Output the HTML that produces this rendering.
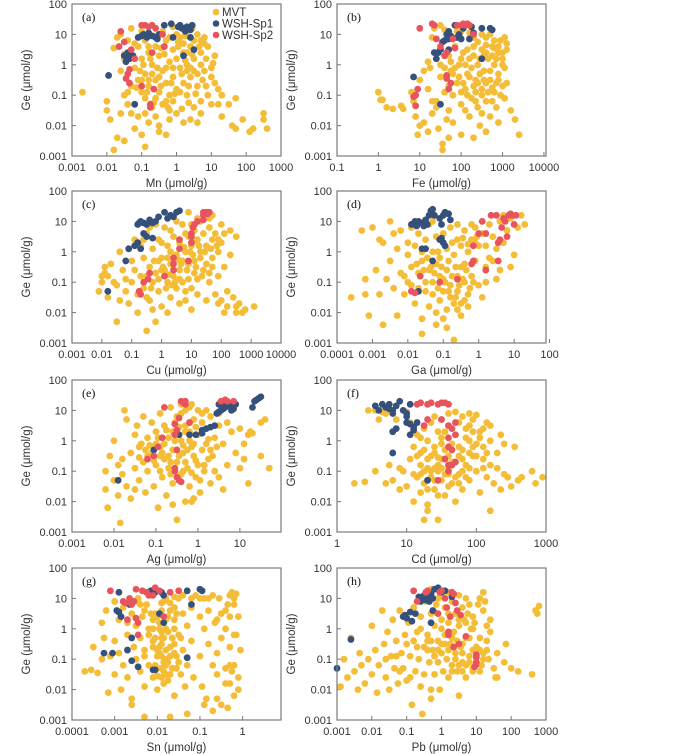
<!DOCTYPE html>
<html><head><meta charset="utf-8"><style>
body{margin:0;background:#fff;}
svg{display:block;font-family:"Liberation Sans",sans-serif;}
</style></head><body>
<svg id="fig" width="700" height="754" viewBox="0 0 700 754"></svg>
<script>
// Each pair = [log10(element µmol/g), log10(Ge µmol/g)]
const mnMvt=[[-2.7,-0.9],[-2.0,-1.2],[-2.0,-1.5],[-1.9,-1.8],[-1.8,-2.8],[-1.7,-2.4],[-1.5,-2.5],[-1.8,0.55],[-1.6,-0.2],[-1.5,0.2],[-1.5,-1.0],[-1.4,-1.3],[-1.3,-1.6],[-1.2,-2.1],[-1.0,-2.3],[-0.9,-2.7],[-0.5,-2.2],[-0.3,-2.3],[-0.2,-1.8],[-1.7,0.9],[-1.6,1.0],[-1.4,0.8],[-1.3,1.2],[-1.2,0.7],[-1.5,0.35],[-1.1,0.6],[-1.2,-0.1],[-1.1,-0.5],[-1.0,-0.9],[-1.0,0.2],[-0.9,-0.3],[-0.9,-1.1],[-0.8,0.4],[-0.8,-0.7],[-0.7,0.0],[-0.7,-1.4],[-0.6,-0.5],[-0.6,0.6],[-0.5,-0.9],[-0.5,0.3],[-0.4,-0.2],[-0.4,-1.3],[-0.3,0.8],[-0.3,-0.6],[-0.2,0.1],[-0.2,-1.0],[-0.1,-0.4],[-0.1,0.5],[0.0,-0.8],[0.0,0.2],[0.1,-0.1],[0.1,0.9],[0.2,-0.6],[0.2,0.4],[0.3,-1.0],[0.3,0.0],[0.4,0.6],[0.4,-0.4],[0.5,0.2],[0.5,-1.4],[0.6,-0.7],[0.7,0.4],[0.8,-0.2],[0.9,-1.0],[-1.3,-0.7],[-1.2,-1.3],[-1.1,-1.7],[-0.9,-1.6],[-0.8,-1.9],[-0.6,-1.7],[-0.5,-2.0],[-0.2,-1.5],[0.0,-1.6],[0.2,-1.9],[0.4,-1.8],[0.6,-1.9],[-0.9,0.8],[-0.6,0.95],[-0.2,0.9],[0.0,1.0],[0.3,1.1],[0.6,1.0],[0.8,0.9],[0.9,0.6],[1.1,0.3],[1.0,-0.1],[1.1,-0.6],[1.2,-0.8],[1.3,-1.0],[1.0,-1.3],[0.7,-1.2],[0.7,-1.6],[1.0,-0.4],[1.2,-1.3],[1.5,-1.3],[1.7,-1.1],[1.7,-2.1],[1.9,-1.8],[2.1,-2.2],[2.2,-2.1],[2.5,-1.8],[2.5,-1.6],[2.6,-2.1],[1.6,-2.0],[1.3,-1.7],[0.5,0.8],[0.2,0.7],[0.45,1.2],[0.1,1.3],[-0.1,1.25],[-0.4,1.1],[-1.0,1.1],[0.4,-0.1],[0.6,-0.3],[0.15,-0.3],[-0.3,-0.1],[-0.7,-0.3],[-1.0,-0.5],[-0.8,-0.5],[-0.5,-0.4],[0.3,-0.2],[0.7,0.0],[-0.1,-1.2],[-0.3,-1.2],[-0.6,-1.1],[0.1,-0.9],[0.35,-0.7],[-1.4,-0.9],[-1.6,-1.6],[0.8,0.7],[1.05,0.05]];
const mnMvtCore=[[-0.95,0.0],[-0.75,0.2],[-0.55,-0.1],[-0.35,0.35],[-0.15,-0.6],[0.05,0.6],[0.25,0.15],[0.45,0.35],[0.65,0.6],[0.85,0.2],[-0.85,-0.9],[-0.45,-0.7],[-0.05,-0.95],[0.35,-1.25],[0.55,-0.95],[0.75,-0.5],[-1.15,-0.75],[-0.65,-1.25],[-0.25,-1.4],[0.15,-1.45],[0.5,-0.2],[0.05,0.75],[-0.45,0.55],[0.7,0.8],[0.25,0.95],[-0.8,0.6],[-1.05,-0.2],[0.85,-0.7],[0.3,0.4],[-0.1,-0.1]];
const mnSp1=[[-1.95,-0.35],[-1.5,0.3],[-1.45,0.1],[-1.4,0.4],[-1.35,0.2],[-1.25,0.3],[-1.2,-1.3],[-1.1,0.9],[-1.0,0.95],[-0.95,1.0],[-0.85,0.9],[-0.8,1.05],[-0.7,0.95],[-0.6,0.9],[-0.55,0.85],[-0.5,1.0],[-0.35,1.3],[-0.15,1.35],[0.05,1.25],[0.1,1.3],[0.2,1.2],[0.25,1.1],[0.3,1.25],[0.4,1.15],[0.45,1.3],[0.2,0.3],[-0.1,0.9],[0.4,0.9],[0.5,0.5],[0.15,1.2]];
const mnSp2=[[-1.6,1.1],[-1.65,0.6],[-1.5,0.75],[-1.3,0.5],[-1.2,0.2],[-1.0,1.3],[-0.9,1.3],[-0.8,1.25],[-0.7,1.3],[-0.6,1.2],[-0.4,1.0],[-0.35,0.6],[-0.7,0.4],[-1.4,-0.3],[-1.35,-0.15],[-1.35,-0.6],[-1.0,-0.7],[-0.65,-0.8],[-0.75,-1.3],[-0.75,-1.4],[-1.45,-0.45]];

const feMvt=[[0.0,-0.9],[0.05,-1.15],[0.1,-1.15],[0.2,-1.4],[0.35,-1.45],[0.55,-1.35],[0.6,-1.45],[0.8,-0.9],[0.85,-1.2],[0.9,-1.7],[1.0,-2.0],[0.95,-2.3],[1.0,-0.5],[1.1,-0.2],[1.2,0.1],[1.2,-0.8],[1.3,0.9],[1.3,-1.6],[1.35,1.2],[1.4,0.4],[1.4,-1.2],[1.45,-2.1],[1.5,-0.4],[1.5,0.0],[1.55,-2.6],[1.55,-2.8],[1.6,0.8],[1.6,-0.9],[1.7,-1.5],[1.7,0.3],[1.75,-0.2],[1.8,-1.0],[1.8,-1.9],[1.85,0.6],[1.9,-0.6],[1.95,0.0],[2.0,-1.3],[2.0,-2.3],[2.05,0.4],[2.1,-0.8],[2.15,-0.3],[2.2,-1.7],[2.2,0.2],[2.25,-1.1],[2.3,0.6],[2.35,-0.5],[2.4,-1.4],[2.4,0.0],[2.45,-2.0],[2.5,0.5],[2.5,-0.8],[2.55,-0.2],[2.6,-1.2],[2.6,0.9],[2.65,0.2],[2.7,-0.5],[2.7,-1.7],[2.75,0.6],[2.8,-0.9],[2.8,0.0],[2.85,-1.4],[2.9,0.4],[2.9,-0.3],[2.95,0.8],[3.0,-0.7],[3.0,0.2],[3.05,-1.1],[3.1,0.5],[3.1,0.7],[3.05,-0.1],[3.1,-0.6],[3.2,-1.5],[3.3,-1.8],[3.4,-2.3],[2.6,-2.2],[2.3,-2.4],[2.1,-1.5],[1.65,-1.8],[1.4,-1.4],[1.3,-1.2],[1.6,-0.1],[1.9,0.9],[2.0,1.1],[2.3,0.9],[2.5,1.0],[2.7,1.0],[2.2,1.05],[1.9,1.1],[1.5,1.3],[1.6,1.15],[2.5,-1.6],[2.9,-1.9],[2.75,-1.2],[2.35,-0.9],[2.55,0.3],[2.85,0.2],[2.9,-0.5],[1.8,-0.3],[2.1,0.0],[2.25,-0.1],[1.7,-0.7],[2.0,-0.9],[2.4,-0.6],[2.6,-0.6],[2.8,0.55],[3.0,0.0],[1.1,-1.9],[1.2,-2.2],[1.7,-2.4],[1.25,-0.1]];
const feMvtCore=[[1.85,-0.1],[2.0,0.2],[2.15,0.5],[2.3,0.3],[2.45,-0.3],[2.6,0.4],[2.75,0.3],[2.9,0.6],[3.0,0.4],[2.7,-0.2],[2.5,-1.0],[2.3,-0.7],[2.15,-1.0],[1.95,-0.4],[2.85,-0.6],[2.95,-1.0],[2.65,-0.9],[2.45,0.2],[2.35,-1.2],[2.05,-0.6],[1.75,0.1],[2.6,0.65],[2.8,0.8],[3.05,0.9],[2.4,0.75],[2.2,-0.4],[2.55,-0.5],[2.75,-0.75]];
const feSp1=[[0.85,-0.4],[1.35,0.4],[1.4,0.2],[1.5,0.5],[1.45,0.4],[1.6,0.8],[1.65,1.0],[1.7,0.85],[1.75,0.95],[1.7,1.1],[1.85,1.3],[1.9,0.9],[1.95,1.0],[2.0,0.85],[2.05,1.2],[2.2,0.85],[2.25,1.25],[2.3,1.05],[2.5,1.2],[2.7,1.2],[2.75,1.15],[2.5,0.2],[1.5,-1.3],[1.7,0.5],[1.55,0.75]];
const feSp2=[[1.0,1.2],[1.3,1.35],[1.35,1.3],[1.4,0.85],[1.5,0.6],[1.6,0.3],[1.65,-0.35],[1.65,-0.45],[1.7,-0.8],[1.75,-0.6],[1.85,0.55],[1.9,1.3],[2.0,1.3],[2.05,1.35],[2.1,1.3],[2.15,1.35],[2.2,1.3],[2.3,1.0],[1.8,0.85],[0.9,-1.0],[0.9,-1.35],[0.85,-1.05],[0.95,-0.8],[1.65,0.4]];

const cuMvt=[[-2.1,-1.3],[-2.0,-0.8],[-2.0,-1.0],[-1.9,-0.5],[-1.9,-0.7],[-1.8,-1.5],[-1.8,-0.8],[-1.7,-0.4],[-1.6,-1.0],[-1.5,-2.3],[-1.5,-1.1],[-1.4,0.0],[-1.4,-1.6],[-1.3,-0.6],[-1.2,-0.9],[-1.2,-1.3],[-1.1,0.1],[-1.1,-1.7],[-1.0,-0.3],[-1.0,-1.0],[-0.9,0.4],[-0.9,-0.6],[-0.8,-1.4],[-0.8,-2.0],[-0.7,0.2],[-0.7,-0.8],[-0.6,-1.2],[-0.6,-0.2],[-0.5,-2.6],[-0.5,0.6],[-0.4,-0.5],[-0.4,-1.6],[-0.3,0.1],[-0.3,-1.0],[-0.2,-2.3],[-0.2,-0.7],[-0.1,0.4],[-0.1,-1.3],[0.0,-0.2],[0.0,-1.8],[0.1,-0.6],[0.1,0.8],[0.2,-1.0],[0.2,0.2],[0.3,-0.4],[0.3,-1.5],[0.4,0.5],[0.4,-0.8],[0.5,-0.1],[0.5,-1.2],[0.6,0.3],[0.6,-0.6],[0.7,0.9],[0.7,-1.0],[0.8,0.0],[0.8,-1.6],[0.9,0.5],[0.9,-0.4],[1.0,0.2],[1.0,-1.2],[1.1,0.7],[1.1,-0.3],[1.2,0.4],[1.2,-0.9],[1.3,1.0],[1.3,0.0],[1.4,-0.6],[1.4,0.6],[1.5,0.2],[1.5,-0.4],[1.6,0.8],[1.6,-1.0],[1.7,0.4],[1.7,-0.2],[1.8,0.6],[1.8,-1.4],[1.9,0.0],[1.9,-0.8],[2.0,0.3],[2.0,-1.6],[2.1,-0.5],[2.1,0.6],[2.2,-1.3],[2.3,-0.1],[2.4,-1.5],[2.5,-1.8],[2.6,-1.7],[2.7,-2.0],[2.8,-1.9],[2.5,-2.0],[3.1,-1.8],[2.2,-1.8],[2.1,-2.0],[1.9,-1.7],[1.5,-1.6],[1.2,-1.4],[1.0,-1.9],[0.6,-1.7],[0.2,-2.0],[-0.3,-1.9],[-0.5,-1.5],[0.9,1.3],[0.5,1.0],[0.3,0.7],[-0.2,0.9],[-0.4,0.8],[1.2,1.1],[1.5,1.3],[1.6,1.1],[1.7,1.2],[1.0,0.9],[0.8,0.6],[2.5,0.5],[2.0,0.9],[1.3,-0.2],[0.4,-0.3],[0.0,0.3],[-0.6,0.4],[2.3,0.7],[1.85,0.2],[0.7,-0.3],[0.2,-0.2],[-0.1,-0.3],[1.1,-0.7],[1.6,-0.7]];
const cuMvtCore=[[-0.25,-0.3],[0.05,-0.5],[0.25,-0.75],[0.45,-1.0],[0.65,-0.4],[0.85,-0.6],[1.05,-0.1],[1.25,0.2],[1.45,0.0],[1.65,0.1],[0.15,-1.2],[0.35,-1.1],[0.55,-0.25],[0.75,0.15],[0.95,0.0],[1.15,-0.5],[1.35,-0.8],[0.3,0.0],[-0.1,-0.9],[-0.35,-1.2],[0.6,-0.9],[0.8,-1.3],[1.7,-0.5],[1.9,0.4],[1.15,0.35],[0.9,-0.9],[-0.5,-0.8],[0.0,-0.6]];
const cuSp1=[[-1.8,-1.3],[-1.2,-0.3],[-1.1,0.1],[-0.9,0.2],[-0.8,0.3],[-0.7,0.1],[-0.8,0.9],[-0.75,0.95],[-0.7,1.0],[-0.6,0.95],[-0.5,0.9],[-0.4,1.05],[-0.3,0.95],[-0.2,1.0],[-0.1,1.15],[0.1,1.3],[0.2,1.1],[0.3,1.2],[0.4,1.15],[0.5,1.3],[0.6,1.35],[-0.6,0.6],[-0.5,0.5],[-0.3,0.45]];
const cuSp2=[[-0.75,-1.3],[-0.7,-1.4],[-0.6,-1.0],[-0.45,-0.9],[-0.4,-0.7],[0.1,-0.8],[0.4,-0.6],[0.4,-0.4],[0.4,-0.2],[0.6,0.1],[0.9,-0.3],[0.6,0.4],[1.0,0.5],[1.0,0.6],[1.05,0.8],[1.1,0.9],[1.2,1.0],[1.4,1.05],[1.4,1.2],[1.5,1.3],[1.55,1.25],[1.6,1.3],[1.4,1.3],[1.0,0.3]];

const gaMvt=[[-3.6,-1.5],[-3.3,0.7],[-3.2,-1.4],[-3.2,-0.9],[-3.1,-2.1],[-3.0,0.8],[-2.9,-0.6],[-2.8,0.4],[-2.8,-1.4],[-2.7,0.3],[-2.7,-2.4],[-2.6,-0.9],[-2.5,1.0],[-2.5,-0.3],[-2.4,0.6],[-2.4,-1.2],[-2.3,-2.1],[-2.3,0.1],[-2.2,-0.7],[-2.2,0.7],[-2.1,-1.4],[-2.0,0.3],[-2.0,-1.0],[-1.9,0.8],[-1.9,-0.5],[-1.8,-1.7],[-1.8,0.2],[-1.7,-1.2],[-1.7,0.6],[-1.6,-0.3],[-1.6,-2.2],[-1.5,0.4],[-1.5,-1.0],[-1.4,-0.6],[-1.4,0.9],[-1.3,-1.4],[-1.3,0.0],[-1.2,-2.0],[-1.2,0.5],[-1.1,-0.8],[-1.1,-0.2],[-1.0,-1.3],[-1.0,0.3],[-0.9,-1.9],[-0.9,-0.6],[-0.8,0.8],[-0.8,-1.1],[-0.7,-0.1],[-0.7,-1.7],[-0.6,0.4],[-0.6,-1.3],[-0.5,-0.5],[-0.5,-2.1],[-0.4,0.7],[-0.4,-1.0],[-0.3,0.0],[-0.3,-1.4],[-0.2,0.4],[-0.2,-0.8],[-0.1,0.8],[-0.1,-0.3],[0.0,-1.1],[0.0,0.2],[0.1,0.6],[0.1,-1.5],[0.2,-0.5],[0.3,0.9],[0.3,-0.2],[0.4,0.5],[0.5,0.1],[0.5,-0.9],[0.6,1.0],[0.7,0.3],[0.8,0.7],[0.9,1.1],[0.9,-0.5],[1.1,0.8],[-1.6,-2.7],[-0.7,-2.9],[-1.2,-2.4],[-1.0,-2.2],[-0.9,-2.5],[-1.4,-1.8],[-1.1,-1.6],[-0.8,-1.5],[-1.3,-1.0],[-1.0,-0.9],[-1.5,-1.3],[-1.9,-1.1],[-2.1,-0.8],[-1.7,-0.7],[-1.2,-0.4],[-1.6,0.0],[-2.0,-0.1],[-0.6,-0.8],[-0.4,-0.4],[-0.5,0.2],[-0.9,0.1],[-1.0,0.6],[-0.2,0.9],[0.1,1.0],[-0.6,0.9],[-1.3,1.0],[-1.8,0.9],[0.2,0.2],[-0.1,0.3],[0.4,-0.3],[0.6,-0.6],[1.0,-0.1],[0.2,-1.0],[-0.3,-1.8],[1.2,1.2],[0.7,1.2],[1.3,0.9]];
const gaMvtCore=[[-1.75,-0.4],[-1.45,-0.2],[-1.25,-0.7],[-1.05,-0.5],[-0.85,-0.3],[-0.65,-0.5],[-0.45,-0.9],[-0.75,-0.8],[-0.95,-1.0],[-1.15,-1.2],[-0.55,-1.1],[-0.35,-0.6],[-0.15,-1.0],[-0.25,-1.2],[-0.65,-1.5],[-0.85,-1.3],[-1.35,-0.5],[-1.55,-0.6],[-0.4,-1.6],[-0.6,-1.9],[-0.5,-1.7],[-0.75,0.3],[-1.15,0.0],[-0.45,0.45],[-0.05,0.5],[-0.3,0.25]];
const gaSp1=[[-1.9,0.9],[-1.8,1.0],[-1.75,0.85],[-1.7,1.0],[-1.6,0.95],[-1.55,0.85],[-1.5,1.05],[-1.45,0.9],[-1.4,1.2],[-1.35,1.35],[-1.3,1.4],[-1.25,1.2],[-1.1,1.1],[-1.0,1.2],[-0.95,1.3],[-0.85,1.25],[-0.8,1.05],[-1.05,0.9],[-1.1,0.4],[-1.0,0.3],[-0.95,0.2],[-1.6,0.1],[-1.5,0.1],[-1.3,-0.3],[-1.7,-1.3],[-1.05,0.45]];
const gaSp2=[[-1.9,-1.3],[-1.8,-1.35],[-1.65,-0.8],[-1.1,-1.0],[-0.6,-0.9],[-0.2,-0.4],[-0.15,-0.3],[-0.15,0.2],[0.1,1.0],[0.2,0.6],[0.35,1.2],[0.5,1.2],[0.55,0.3],[0.6,0.4],[0.65,0.8],[0.7,1.1],[0.75,1.0],[0.8,0.5],[0.85,1.2],[0.9,1.25],[0.95,1.2],[1.0,0.9],[1.05,1.2],[0.55,-0.3],[0.2,-0.6],[0.0,0.6]];

const agMvt=[[-2.2,-1.0],[-2.2,-1.6],[-2.15,-2.2],[-2.1,-0.5],[-2.0,0.0],[-2.0,-1.3],[-1.9,-0.8],[-1.85,-2.7],[-1.8,-0.6],[-1.8,-1.1],[-1.75,1.0],[-1.7,0.7],[-1.7,-1.5],[-1.6,-0.4],[-1.6,-1.9],[-1.5,0.2],[-1.5,-0.9],[-1.45,0.5],[-1.4,-1.3],[-1.4,-0.2],[-1.3,0.8],[-1.3,-0.7],[-1.25,-1.7],[-1.2,0.1],[-1.2,-1.0],[-1.1,0.6],[-1.1,-0.4],[-1.05,-1.5],[-1.0,0.3],[-1.0,-0.8],[-0.95,-2.2],[-0.9,0.9],[-0.9,-0.2],[-0.85,-1.2],[-0.8,0.5],[-0.8,-0.6],[-0.75,-1.8],[-0.7,0.1],[-0.7,-0.9],[-0.65,1.1],[-0.6,-0.3],[-0.6,-1.4],[-0.55,0.6],[-0.5,-0.7],[-0.5,-2.6],[-0.45,0.2],[-0.4,-1.1],[-0.4,0.9],[-0.35,-0.4],[-0.3,-2.0],[-0.3,0.5],[-0.25,-0.9],[-0.2,0.0],[-0.2,-1.5],[-0.15,1.2],[-0.1,-0.5],[-0.1,0.7],[-0.05,-1.2],[0.0,0.2],[0.0,-0.8],[0.05,-1.7],[0.1,0.9],[0.1,-0.3],[0.15,-1.0],[0.2,0.4],[0.25,-0.6],[0.3,0.8],[0.3,-1.4],[0.4,0.1],[0.4,-1.0],[0.5,-1.2],[0.5,0.5],[0.6,-0.1],[0.7,-0.8],[0.8,0.3],[0.9,-0.4],[1.0,0.4],[1.0,-0.9],[1.1,-0.6],[1.2,0.2],[1.2,-1.4],[1.25,0.3],[1.3,0.25],[1.5,0.6],[1.6,0.7],[1.5,-0.5],[1.7,-0.9],[1.1,-0.1],[0.7,0.6],[-1.35,-0.1],[-1.0,-0.1],[-0.6,0.3],[-0.3,0.3],[-0.15,-0.2],[-0.5,-0.3],[-0.8,-0.1],[-1.2,-0.5],[-0.9,-0.5],[-0.3,-0.7],[-0.7,-0.5],[-0.4,0.0],[-0.1,-0.1],[0.2,-0.1],[0.3,-0.3],[-0.2,0.6],[-0.5,0.8],[-0.3,1.0],[-0.4,1.2],[-0.2,1.1],[0.0,1.0],[0.2,1.0],[0.5,0.9],[-0.15,-2.0],[-0.6,-2.1],[-0.1,-1.9],[0.6,-1.6],[-1.9,-1.8],[-1.5,-1.6]];
const agMvtCore=[[-1.25,-0.3],[-1.05,-0.65],[-0.85,-0.4],[-0.65,-0.7],[-0.45,-0.5],[-0.25,-0.3],[-0.05,-0.65],[0.15,-0.8],[0.35,-0.5],[-0.35,-0.15],[-0.55,0.0],[-0.75,0.35],[-0.95,0.1],[-1.15,-0.15],[-0.65,-1.1],[-0.35,-1.0],[-0.15,-1.05],[0.05,-1.3],[0.25,0.05],[0.45,-0.2],[-0.05,0.45],[-0.45,0.45],[-0.2,0.3],[0.1,0.6],[-1.4,-0.55],[-0.9,-1.0]];
const agSp1=[[-1.9,-1.3],[-1.05,-0.3],[-0.45,0.2],[-0.2,0.2],[-0.05,0.2],[0.1,0.25],[0.1,0.35],[0.2,0.4],[0.3,0.45],[0.4,0.5],[0.45,0.9],[0.5,0.95],[0.55,1.0],[0.6,1.05],[0.65,1.1],[0.7,1.15],[0.75,1.2],[0.8,1.0],[0.8,1.1],[0.85,1.05],[0.9,1.2],[0.6,1.25],[0.5,1.2],[1.3,1.1],[1.4,1.35],[1.45,1.4],[1.5,1.45],[1.35,1.3]];
const agSp2=[[-1.2,-0.6],[-1.05,-0.5],[-0.95,-0.2],[-0.85,0.1],[-0.8,1.1],[-0.55,0.2],[-0.55,0.55],[-0.5,0.35],[-0.45,0.75],[-0.4,1.3],[-0.35,1.25],[-0.3,1.2],[-0.5,-0.3],[-0.55,-0.9],[-0.55,-1.0],[-0.5,-1.2],[-0.45,-1.3],[-0.4,-1.35],[-0.3,1.3],[-0.2,0.6],[0.55,1.3],[0.65,1.35],[0.7,1.3],[0.85,1.3]];

const cdMvt=[[0.25,-1.4],[0.4,-1.35],[0.45,1.0],[0.55,1.0],[0.65,0.95],[0.6,0.7],[0.7,0.9],[0.75,-0.8],[0.8,-1.3],[0.85,0.7],[0.9,-0.9],[0.95,-1.0],[1.0,0.95],[1.0,-1.5],[1.05,0.6],[1.05,-0.6],[1.1,-1.1],[1.1,-2.0],[1.15,0.2],[1.15,-0.5],[1.15,-1.2],[1.2,-0.8],[1.2,-1.7],[1.25,0.4],[1.25,-0.3],[1.25,-1.4],[1.3,0.0],[1.3,-0.9],[1.3,-2.1],[1.35,-0.5],[1.35,-1.2],[1.35,0.6],[1.4,-0.2],[1.4,-1.6],[1.45,0.3],[1.45,-1.0],[1.45,-2.6],[1.5,-0.6],[1.5,-1.3],[1.5,0.1],[1.55,-0.3],[1.55,-1.8],[1.6,0.5],[1.6,-0.9],[1.65,-0.1],[1.65,-1.4],[1.7,0.2],[1.7,-0.7],[1.7,-2.0],[1.75,0.6],[1.75,-1.1],[1.8,-0.3],[1.8,-1.6],[1.85,0.4],[1.85,-0.8],[1.9,0.0],[1.9,-1.3],[1.95,0.7],[1.95,-0.5],[2.0,-0.1],[2.0,-1.0],[2.05,0.3],[2.05,-1.7],[2.1,-0.6],[2.15,0.6],[2.15,-1.2],[2.2,0.0],[2.2,-0.8],[2.25,-1.4],[2.3,-0.4],[2.35,0.2],[2.4,-1.1],[2.45,-1.2],[2.5,-1.5],[2.55,-0.2],[2.6,-1.3],[2.65,-1.2],[2.8,-1.0],[2.95,-1.2],[2.85,-1.4],[2.2,-2.3],[2.35,-1.6],[1.3,-2.3],[1.25,-2.6],[0.9,-1.6],[0.7,-1.4],[0.55,-1.0],[1.2,0.1],[1.1,-0.2],[1.4,0.8],[1.6,0.9],[1.8,0.8],[1.9,0.9],[2.0,0.85],[1.7,0.95],[1.5,0.7],[1.75,-0.5],[1.55,-0.6],[1.4,-0.4],[1.6,-1.1],[1.3,-1.3],[1.45,-0.8],[1.2,-1.1],[1.8,-1.0],[1.9,-0.4],[2.1,-0.2],[1.65,-0.3],[2.3,-0.9],[2.2,0.5],[2.4,-0.1],[1.4,-0.9]];
const cdMvtCore=[[1.2,-0.4],[1.3,-0.6],[1.35,-1.0],[1.4,-1.3],[1.45,-0.55],[1.5,-0.9],[1.55,-1.1],[1.6,-0.5],[1.65,-0.7],[1.7,-1.2],[1.75,-0.2],[1.8,-0.6],[1.85,-1.2],[1.9,-0.9],[1.95,-0.2],[2.0,-0.5],[2.05,0.1],[2.1,-0.9],[2.15,-0.4],[1.55,0.3],[1.85,0.1],[1.25,-1.0],[1.3,-1.6],[1.45,-1.8],[1.6,-1.5],[1.75,-1.4],[1.9,0.5],[2.1,0.4],[1.95,0.3],[1.5,-0.1]];
const cdSp1=[[0.55,1.15],[0.6,1.0],[0.7,1.1],[0.75,1.2],[0.8,1.0],[0.85,1.15],[0.9,1.3],[0.95,1.0],[1.0,0.9],[0.75,1.05],[0.8,0.9],[0.65,1.2],[1.05,1.2],[1.0,0.6],[1.05,0.55],[1.1,0.45],[1.15,0.6],[1.1,0.35],[0.85,0.4],[0.8,0.3],[1.05,0.2],[0.8,-0.4],[1.3,-1.3],[1.0,0.8]];
const cdSp2=[[1.15,1.2],[1.2,1.25],[1.3,1.2],[1.35,1.25],[1.45,1.2],[1.5,1.25],[1.55,1.25],[1.6,1.2],[1.3,0.7],[1.25,0.5],[1.5,0.7],[1.6,0.5],[1.7,0.6],[1.65,0.4],[1.7,0.2],[1.6,0.1],[1.6,-0.2],[1.65,-0.3],[1.55,-0.6],[1.6,-0.8],[1.65,-0.8],[1.6,-1.0],[1.45,-1.3],[1.7,-0.7]];

const snMvt=[[-3.7,-1.4],[-3.55,-1.35],[-3.5,-0.6],[-3.4,-1.45],[-3.3,-1.0],[-3.3,0.2],[-3.25,-0.3],[-3.2,0.6],[-3.15,-2.1],[-3.1,-0.9],[-3.0,0.9],[-3.0,-0.4],[-3.0,-1.5],[-2.9,0.3],[-2.9,-0.8],[-2.85,-2.0],[-2.8,-1.2],[-2.8,0.7],[-2.7,-0.2],[-2.7,-1.6],[-2.6,0.5],[-2.6,-2.3],[-2.55,-0.6],[-2.5,0.1],[-2.5,-1.0],[-2.45,0.9],[-2.4,-1.4],[-2.4,-0.3],[-2.35,0.4],[-2.3,-1.9],[-2.3,-0.7],[-2.25,0.8],[-2.2,0.0],[-2.2,-1.2],[-2.15,1.1],[-2.1,-0.4],[-2.1,-1.6],[-2.05,0.5],[-2.0,-0.9],[-2.0,-2.0],[-1.95,0.2],[-1.9,-0.5],[-1.9,-1.3],[-1.85,0.9],[-1.8,-1.0],[-1.8,0.0],[-1.75,-1.7],[-1.7,0.6],[-1.7,-0.6],[-1.65,-1.3],[-1.6,0.3],[-1.6,-2.2],[-1.55,-0.9],[-1.5,-0.2],[-1.5,1.0],[-1.45,-1.5],[-1.4,0.5],[-1.4,-0.7],[-1.35,-1.9],[-1.3,0.1],[-1.3,-1.2],[-1.2,-0.4],[-1.2,0.7],[-1.15,-1.6],[-1.1,1.1],[-1.0,0.4],[-1.0,-0.9],[-0.95,-1.9],[-0.9,0.0],[-0.9,1.0],[-0.85,-2.3],[-0.8,-0.5],[-0.8,0.6],[-0.7,-1.2],[-0.7,1.1],[-0.65,0.2],[-0.6,-0.8],[-0.6,-1.5],[-0.55,1.0],[-0.5,0.5],[-0.5,-0.3],[-0.4,-1.3],[-0.4,0.0],[-0.35,0.8],[-0.3,-0.6],[-0.3,0.4],[-0.25,-1.4],[-0.2,1.1],[-0.2,-2.2],[-0.15,-0.2],[-0.1,0.4],[-0.05,-0.7],[-0.1,-1.6],[-0.5,-2.5],[-0.6,-2.3],[-0.4,-1.8],[-0.3,-1.8],[-0.8,1.0],[-0.6,0.3],[-0.4,0.6],[-0.2,0.8],[-0.25,1.2],[-0.2,1.0],[-0.3,-1.2],[-0.35,-2.6],[-0.1,-2.0],[-0.7,-2.7],[-0.9,-2.5],[-1.3,-2.8],[-1.7,-2.9],[-2.3,-2.9],[-2.6,-2.5],[-2.0,-1.3],[-1.9,-0.1],[-2.1,-0.6],[-2.0,0.4],[-1.95,-0.8],[-1.85,-1.1],[-1.9,-0.3],[-2.05,-1.2],[-1.8,-1.2],[-1.7,-0.9],[-1.9,-1.6],[-2.2,-0.2],[-2.15,0.5],[-2.3,0.6],[-2.4,0.8],[-2.45,1.0],[-1.8,1.0],[-1.6,1.05],[-1.4,1.1],[-1.2,1.0],[-1.0,1.0],[-1.6,-0.5],[-2.3,-0.9],[-1.5,-1.1],[-1.6,0.0],[-2.1,0.0],[-2.7,0.2],[-0.2,-1.2],[-0.3,1.1],[-0.15,1.15],[-0.2,-0.2]];
const snMvtCore=[[-1.95,-0.6],[-1.9,-0.9],[-1.85,-0.3],[-1.8,-0.7],[-1.75,-0.1],[-1.8,0.3],[-1.85,-1.4],[-1.75,-1.1],[-1.95,0.0],[-2.05,-0.3],[-1.9,0.6],[-1.75,0.4],[-1.65,-0.3],[-1.6,-0.8],[-1.55,-1.3],[-1.85,-1.8],[-1.8,-1.5],[-2.0,-1.55],[-1.7,-1.5],[-1.6,0.7],[-1.7,0.85],[-1.9,0.85],[-2.1,0.3],[-1.55,0.5],[-1.45,-0.3],[-2.0,-0.7]];
const snSp1=[[-3.25,-0.8],[-3.05,-0.8],[-2.9,1.2],[-2.95,0.6],[-2.9,0.55],[-2.85,0.4],[-2.7,-0.7],[-2.65,0.8],[-2.6,-1.05],[-2.6,-0.3],[-2.45,-1.25],[-2.2,1.2],[-2.15,1.25],[-2.05,1.2],[-2.0,1.25],[-1.9,1.2],[-1.85,1.1],[-2.1,-1.35],[-2.05,-1.35],[-1.95,0.5],[-1.85,0.2],[-1.3,-0.95],[-1.3,1.25],[-1.2,0.8],[-1.0,1.3],[-0.95,1.25]];
const snSp2=[[-3.1,1.25],[-2.8,0.9],[-2.75,0.85],[-2.65,0.9],[-2.65,1.0],[-2.6,0.8],[-2.55,0.9],[-2.5,1.3],[-2.5,0.35],[-2.45,0.2],[-2.45,-0.2],[-2.35,1.25],[-2.25,1.2],[-2.2,1.1],[-2.1,1.1],[-2.05,1.35],[-1.95,1.25],[-1.85,0.4],[-1.5,1.25],[-1.7,1.2],[-2.7,0.3]];

const pbMvt=[[-2.9,-1.9],[-2.8,-1.0],[-2.7,-1.6],[-2.6,-0.3],[-2.5,-1.4],[-2.4,-2.0],[-2.35,-0.8],[-2.3,-1.2],[-2.2,-1.8],[-2.1,-1.0],[-2.0,0.1],[-2.0,-1.5],[-1.9,-0.7],[-1.85,-2.1],[-1.8,-1.2],[-1.7,0.6],[-1.65,-0.5],[-1.6,-1.6],[-1.55,-0.1],[-1.5,-2.0],[-1.45,-0.9],[-1.4,0.3],[-1.35,-1.3],[-1.3,-0.4],[-1.25,-1.8],[-1.2,0.6],[-1.15,-0.8],[-1.1,-1.3],[-1.05,-0.2],[-1.0,-1.7],[-0.95,0.2],[-0.9,-0.9],[-0.85,-2.5],[-0.8,-0.4],[-0.8,0.7],[-0.75,-1.4],[-0.7,-0.1],[-0.65,-1.0],[-0.6,0.4],[-0.55,-2.8],[-0.5,-0.6],[-0.5,-1.5],[-0.45,0.9],[-0.4,-0.2],[-0.35,-1.1],[-0.3,0.5],[-0.3,-2.3],[-0.25,-0.7],[-0.2,0.1],[-0.2,-1.5],[-0.15,0.8],[-0.1,-0.4],[-0.1,-1.1],[-0.05,-2.0],[0.0,0.3],[0.0,-0.8],[0.05,-1.4],[0.1,0.7],[0.1,-0.2],[0.15,-1.0],[0.2,0.2],[0.2,-1.6],[0.25,-0.5],[0.3,0.9],[0.3,-1.2],[0.35,-0.1],[0.4,-0.8],[0.4,0.5],[0.45,-1.4],[0.5,0.1],[0.5,-2.2],[0.55,-0.6],[0.6,0.7],[0.6,-1.1],[0.65,0.3],[0.7,-0.3],[0.7,-1.6],[0.75,0.5],[0.8,-0.9],[0.85,0.0],[0.9,-1.3],[0.95,0.2],[1.0,-0.6],[1.0,-1.1],[1.05,0.8],[1.1,-0.3],[1.15,-1.2],[1.2,0.6],[1.2,-0.8],[1.3,-0.4],[1.3,0.1],[1.35,-1.0],[1.5,-1.3],[1.55,-1.6],[1.6,-1.6],[1.8,-1.1],[1.85,-0.5],[2.0,-1.3],[2.2,-1.4],[1.4,0.3],[1.4,-0.1],[1.2,1.2],[0.9,0.4],[0.5,1.1],[0.2,1.2],[-0.3,1.3],[0.0,1.1],[-0.1,1.0],[0.7,1.0],[1.6,-0.8],[2.6,-1.5],[2.7,0.6],[2.75,0.5],[2.8,0.75],[1.25,0.9],[1.1,1.0],[0.8,0.8],[-0.2,0.55],[-0.6,0.0],[0.3,-0.6],[0.6,-0.5],[0.8,-0.3],[0.9,-0.7],[-0.4,-0.4],[-0.7,-0.6],[-1.0,-0.5],[-1.3,-0.9],[-0.6,-1.9],[-0.9,-1.6],[-1.2,-1.4],[-0.3,-2.0],[-1.6,-1.0]];
const pbMvtCore=[[-0.4,-0.7],[-0.2,-0.9],[0.0,-0.5],[0.2,-0.7],[0.4,-1.0],[0.6,-0.8],[0.8,-1.1],[1.0,-0.9],[1.1,-0.7],[0.9,-1.4],[0.7,-1.2],[0.5,-1.2],[0.3,-0.3],[0.1,-0.5],[-0.1,-0.7],[0.3,-1.4],[0.6,-1.4],[1.2,-1.0],[1.1,-1.4],[0.5,0.3],[0.7,0.2],[0.9,0.0],[0.2,0.5],[0.0,0.0],[1.3,-0.7],[0.45,-0.4],[-0.3,-0.4]];
const pbSp1=[[-3.0,-1.3],[-2.6,-0.35],[-1.1,0.4],[-1.05,0.45],[-1.0,0.35],[-0.9,0.55],[-0.85,0.25],[-0.75,0.5],[-0.65,1.05],[-0.6,0.9],[-0.55,1.0],[-0.5,1.1],[-0.45,0.95],[-0.4,1.05],[-0.35,0.9],[-0.3,1.15],[-0.25,1.0],[-0.25,0.6],[-0.3,0.2],[-0.2,1.3],[-0.1,1.35],[0.0,1.2],[0.1,1.25],[0.3,1.05]];
const pbSp2=[[-0.8,1.25],[-0.7,0.9],[-0.45,1.2],[-0.4,1.25],[-0.1,0.5],[-0.05,1.2],[0.0,1.25],[0.1,1.0],[0.15,0.7],[0.25,0.4],[0.3,1.2],[0.35,1.15],[0.4,0.85],[0.45,0.6],[0.55,0.45],[0.5,-0.5],[0.7,-0.25],[0.35,-0.6],[0.2,-0.2],[1.0,-0.85],[1.0,-0.95],[1.0,-1.1],[0.98,-1.2],[0.95,-1.25],[0.2,-0.1]];

const yTickLabels=["0.001","0.01","0.1","1","10","100"];
const seriesNames=["MVT","WSH-Sp1","WSH-Sp2"];

const NS="http://www.w3.org/2000/svg";
const svg=document.getElementById('fig');
const COL=["#F4BD38","#35507A","#E8545C"];
function mk(tag,attrs,parent){const e=document.createElementNS(NS,tag);for(const k in attrs)e.setAttribute(k,attrs[k]);(parent||svg).appendChild(e);return e;}

const panels=[
 {id:"a",el:"Mn",x0:72,y0:4,xmin:-3,xmax:3,labels:["0.001","0.01","0.1","1","10","100","1000"],lmin:-3,data:[mnMvt.concat(mnMvtCore),mnSp1,mnSp2]},
 {id:"b",el:"Fe",x0:337,y0:4,xmin:-1,xmax:4.05,labels:["0.1","1","10","100","1000","10000"],lmin:-1,data:[feMvt.concat(feMvtCore),feSp1,feSp2]},
 {id:"c",el:"Cu",x0:72,y0:191,xmin:-3,xmax:4,labels:["0.001","0.01","0.1","1","10","100","1000","10000"],lmin:-3,data:[cuMvt.concat(cuMvtCore),cuSp1,cuSp2]},
 {id:"d",el:"Ga",x0:337,y0:191,xmin:-4,xmax:1.9,labels:["0.0001","0.001","0.01","0.1","1","10","100"],lmin:-4,data:[gaMvt.concat(gaMvtCore),gaSp1,gaSp2]},
 {id:"e",el:"Ag",x0:72,y0:380,xmin:-3,xmax:1.98,labels:["0.001","0.01","0.1","1","10"],lmin:-3,data:[agMvt.concat(agMvtCore),agSp1,agSp2]},
 {id:"f",el:"Cd",x0:337,y0:380,xmin:0,xmax:3,labels:["1","10","100","1000"],lmin:0,data:[cdMvt.concat(cdMvtCore),cdSp1,cdSp2]},
 {id:"g",el:"Sn",x0:72,y0:568,xmin:-4,xmax:0.9,labels:["0.0001","0.001","0.01","0.1","1"],lmin:-4,data:[snMvt.concat(snMvtCore),snSp1,snSp2]},
 {id:"h",el:"Pb",x0:337,y0:568,xmin:-3,xmax:3,labels:["0.001","0.01","0.1","1","10","100","1000"],lmin:-3,data:[pbMvt.concat(pbMvtCore),pbSp1,pbSp2]}
];
const W=209,H=152,YMIN=-3,YMAX=2;

panels.forEach(p=>{
  const g=mk('g',{});
  
  
  const sx=v=>p.x0+(v-p.xmin)/(p.xmax-p.xmin)*W;
  const sy=v=>p.y0+H-(v-YMIN)/(YMAX-YMIN)*H;
  yTickLabels.forEach((t,i)=>{
    const y=sy(YMIN+i);
    const tk=mk('line',{x1:p.x0,x2:p.x0+4,y1:y,y2:y,stroke:'#777','stroke-width':1},g);
    
    
    const tx=mk('text',{x:p.x0-5,y:y+4,'text-anchor':'end','font-size':11,fill:'#333'},g);
    tx.textContent=t;
    
    
  });
  p.labels.forEach((t,i)=>{
    const x=sx(p.lmin+i);
    const tk=mk('line',{x1:x,x2:x,y1:p.y0+H,y2:p.y0+H-4,stroke:'#777','stroke-width':1},g);
    
    
    const tx=mk('text',{x:x,y:p.y0+H+15,'text-anchor':'middle','font-size':11,fill:'#333'},g);
    tx.textContent=t;
    
    
  });
  const xt=mk('text',{x:p.x0+W/2,y:p.y0+H+31,'text-anchor':'middle','font-size':11.5,fill:'#333'},g);
  xt.textContent=p.el+' (\u03bcmol/g)';
  
  
  const cy=p.y0+H/2, cx=p.x0-42;
  const yt=mk('text',{x:cx,y:cy,'text-anchor':'middle','font-size':11.5,fill:'#333',transform:`rotate(-90 ${cx} ${cy})`},g);
  yt.textContent='Ge (\u03bcmol/g)';
  
  
  p.data.forEach((arr,si)=>{
    arr.forEach(pt=>{
      const c=mk('circle',{cx:sx(pt[0]),cy:sy(pt[1]),r:3.4,fill:COL[si]},g);
      
      
    });
  });
  const box=mk('rect',{x:p.x0,y:p.y0,width:W,height:H,fill:'none',stroke:'#7a7a7a','stroke-width':1.2},g);
  
  
  const lb=mk('text',{x:p.x0+10,y:p.y0+17,'font-size':12,fill:'#111','font-family':'Liberation Serif, serif'},g);
  lb.textContent='('+p.id+')';
  
  
});

const lg=mk('g',{});


seriesNames.forEach((n,i)=>{
  const y=12+i*11.5;
  const c=mk('circle',{cx:216,cy:y,r:3.3,fill:COL[i]},lg);
  
  
  const t=mk('text',{x:222,y:y+4,'font-size':11.5,fill:'#333'},lg);
  t.textContent=n;
  
  
});
</script>
</body></html>
